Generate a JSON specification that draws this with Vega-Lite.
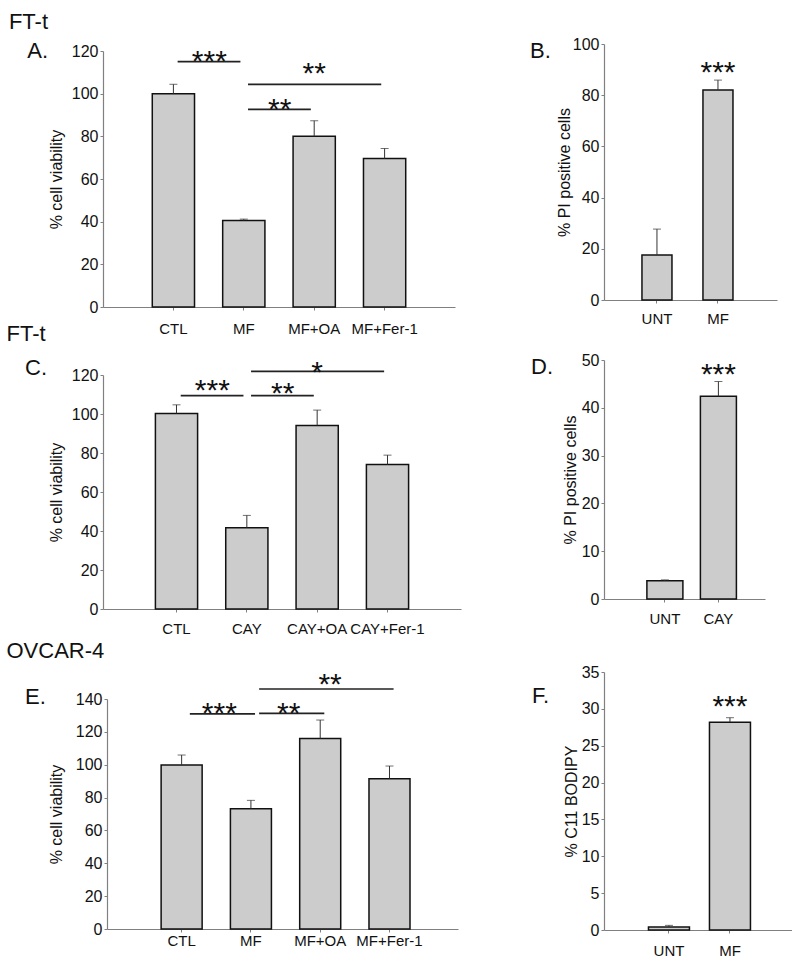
{
  "$schema": "https://vega.github.io/schema/vega-lite/v6.json",
  "background": "white",
  "padding": {"left": 6, "top": 11, "right": 0, "bottom": 0},
  "columns": 2,
  "spacing": {"row": 43, "column": 141},
  "bounds": "flush",
  "align": "none",
  "datasets": {
    "barsA": [
      {"cond": "CTL", "mean": 100, "err": 104.4},
      {"cond": "MF", "mean": 40.5, "err": 41.2},
      {"cond": "MF+OA", "mean": 80, "err": 87.3},
      {"cond": "MF+Fer-1", "mean": 69.6, "err": 74.3}
    ],
    "sigA": [
      {"from": "CTL", "to": "MF", "mid": "CTL", "y": 115, "ty": 118.5, "label": "***", "kind": "adj"},
      {"from": "MF", "to": "MF+OA", "mid": "MF", "y": 92.6, "ty": 96.2, "label": "**", "kind": "adj"},
      {"from": "MF", "to": "MF+Fer-1", "mid": "MF+OA", "y": 104.4, "ty": 113, "label": "**", "kind": "wide"}
    ],
    "barsB": [
      {"cond": "UNT", "mean": 17.6, "err": 27.7},
      {"cond": "MF", "mean": 82, "err": 85.9}
    ],
    "starB": [{"mid": "MF", "ty": 91.9, "label": "***"}],
    "barsC": [
      {"cond": "CTL", "mean": 100.3, "err": 104.7},
      {"cond": "CAY", "mean": 41.7, "err": 48},
      {"cond": "CAY+OA", "mean": 94.1, "err": 102},
      {"cond": "CAY+Fer-1", "mean": 74.1, "err": 78.9}
    ],
    "sigC": [
      {"from": "CTL", "to": "CAY", "mid": "CTL", "y": 109.4, "ty": 115.7, "label": "***", "kind": "adj"},
      {"from": "CAY", "to": "CAY+OA", "mid": "CAY", "y": 109.4, "ty": 114.3, "label": "**", "kind": "adj"},
      {"from": "CAY", "to": "CAY+Fer-1", "mid": "CAY+OA", "y": 121.9, "ty": 125.1, "label": "*", "kind": "wide"}
    ],
    "barsD": [
      {"cond": "UNT", "mean": 3.8, "err": 4.0},
      {"cond": "CAY", "mean": 42.4, "err": 45.5}
    ],
    "starD": [{"mid": "CAY", "ty": 48.5, "label": "***"}],
    "barsE": [
      {"cond": "CTL", "mean": 99.8, "err": 105.9},
      {"cond": "MF", "mean": 73.2, "err": 78.3},
      {"cond": "MF+OA", "mean": 116, "err": 127.2},
      {"cond": "MF+Fer-1", "mean": 91.5, "err": 99.2}
    ],
    "sigE": [
      {"from": "CTL", "to": "MF", "mid": "CTL", "y": 130.9, "ty": 135.7, "label": "***", "kind": "adj"},
      {"from": "MF", "to": "MF+OA", "mid": "MF", "y": 131.3, "ty": 135.9, "label": "**", "kind": "adj"},
      {"from": "MF", "to": "MF+Fer-1", "mid": "MF+OA", "y": 146.1, "ty": 153.4, "label": "**", "kind": "wide"}
    ],
    "barsF": [
      {"cond": "UNT", "mean": 0.41, "err": 0.63},
      {"cond": "MF", "mean": 28.2, "err": 28.8}
    ],
    "starF": [{"mid": "MF", "ty": 31.4, "label": "***"}]
  },
  "concat": [
    {
      "width": 360, "height": 263,
      "title": {"text": "FT-t", "subtitle": "A.", "align": "right", "dx": -55, "offset": -20, "subtitlePadding": 7},
      "layer": [
        {"data": {"name": "barsA"}, "mark": {"type": "bar", "fill": "#cccccc", "stroke": "#111111", "strokeWidth": 1.5},
         "encoding": {
           "x": {"field": "cond", "type": "nominal", "sort": null, "scale": {"domain": ["CTL", "MF", "MF+OA", "MF+Fer-1"], "range": [0, 352], "paddingInner": 0.4, "paddingOuter": 0.7, "align": 0.5},
                 "axis": {"labelPadding": 11, "title": "FT-t", "titleX": -97, "titleY": 33, "titleAlign": "left", "titleAnchor": "start", "titleBaseline": "alphabetic", "titleAngle": 0, "titleFontSize": 22, "titleFont": "Liberation Sans", "titleFontWeight": "normal", "titleColor": "#111111", "titlePadding": 0}},
           "y": {"field": "mean", "type": "quantitative", "scale": {"domain": [0, 120], "range": [263, 7], "nice": false}, "axis": {"values": [0, 20, 40, 60, 80, 100, 120], "tickCount": 20, "title": "% cell viability", "titlePadding": 7}}
         }},
        {"data": {"name": "barsA"}, "mark": {"type": "rule", "color": "#333333", "strokeWidth": 1},
         "encoding": {"x": {"field": "cond", "type": "nominal", "sort": null}, "y": {"field": "mean", "type": "quantitative"}, "y2": {"field": "err"}}},
        {"data": {"name": "barsA"}, "mark": {"type": "tick", "color": "#333333", "thickness": 1, "size": 8},
         "encoding": {"x": {"field": "cond", "type": "nominal", "sort": null}, "y": {"field": "err", "type": "quantitative"}}},
        {"data": {"name": "sigA"}, "mark": {"type": "rule", "color": "#222222", "strokeWidth": 1.7},
         "encoding": {"x": {"field": "from", "type": "nominal", "sort": null, "bandPosition": 0.6}, "x2": {"field": "to", "bandPosition": 0.42}, "y": {"field": "y", "type": "quantitative"}}},
        {"data": {"name": "sigA"}, "transform": [{"filter": "datum.kind === 'adj'"}], "mark": {"type": "text", "fontSize": 30, "font": "Liberation Sans", "baseline": "alphabetic", "dy": 17, "color": "#111111"},
         "encoding": {"x": {"field": "from", "type": "nominal", "sort": null, "bandPosition": 1.35}, "y": {"field": "ty", "type": "quantitative"}, "text": {"field": "label"}}},
        {"data": {"name": "sigA"}, "transform": [{"filter": "datum.kind === 'wide'"}], "mark": {"type": "text", "fontSize": 30, "font": "Liberation Sans", "baseline": "alphabetic", "dy": 17, "color": "#111111"},
         "encoding": {"x": {"field": "mid", "type": "nominal", "sort": null, "bandPosition": 0.5}, "y": {"field": "ty", "type": "quantitative"}, "text": {"field": "label"}}}
      ]
    },
    {
      "width": 173, "height": 256,
      "title": {"text": "B.", "dx": -74, "offset": -27},
      "layer": [
        {"data": {"name": "barsB"}, "mark": {"type": "bar", "fill": "#cccccc", "stroke": "#111111", "strokeWidth": 1.5},
         "encoding": {
           "x": {"field": "cond", "type": "nominal", "sort": null, "scale": {"domain": ["UNT", "MF"], "paddingInner": 0.508, "paddingOuter": 0.672, "align": 0.463}, "axis": {"title": null, "labelPadding": 8}},
           "y": {"field": "mean", "type": "quantitative", "scale": {"domain": [0, 100], "nice": false}, "axis": {"values": [0, 20, 40, 60, 80, 100], "tickCount": 20, "title": "% PI positive cells", "titlePadding": 0}}
         }},
        {"data": {"name": "barsB"}, "mark": {"type": "rule", "color": "#333333", "strokeWidth": 1},
         "encoding": {"x": {"field": "cond", "type": "nominal", "sort": null}, "y": {"field": "mean", "type": "quantitative"}, "y2": {"field": "err"}}},
        {"data": {"name": "barsB"}, "mark": {"type": "tick", "color": "#333333", "thickness": 1, "size": 8},
         "encoding": {"x": {"field": "cond", "type": "nominal", "sort": null}, "y": {"field": "err", "type": "quantitative"}}},
        {"data": {"name": "starB"}, "mark": {"type": "text", "fontSize": 30, "font": "Liberation Sans", "baseline": "alphabetic", "dy": 17, "color": "#111111"},
         "encoding": {"x": {"field": "mid", "type": "nominal", "sort": null}, "y": {"field": "ty", "type": "quantitative"}, "text": {"field": "label"}}}
      ]
    },
    {
      "width": 356, "height": 259,
      "title": {"text": "C.", "dx": -78, "offset": -30},
      "layer": [
        {"data": {"name": "barsC"}, "mark": {"type": "bar", "fill": "#cccccc", "stroke": "#111111", "strokeWidth": 1.5},
         "encoding": {
           "x": {"field": "cond", "type": "nominal", "sort": null, "scale": {"domain": ["CTL", "CAY", "CAY+OA", "CAY+Fer-1"], "range": [0, 358], "paddingInner": 0.4, "paddingOuter": 0.745, "align": 0.5},
                 "axis": {"labelPadding": 9, "title": "OVCAR-4", "titleX": -97, "titleY": 48, "titleAlign": "left", "titleAnchor": "start", "titleBaseline": "alphabetic", "titleAngle": 0, "titleFontSize": 22, "titleFont": "Liberation Sans", "titleFontWeight": "normal", "titleColor": "#111111", "titlePadding": 0}},
           "y": {"field": "mean", "type": "quantitative", "scale": {"domain": [0, 120], "range": [259, 25], "nice": false}, "axis": {"values": [0, 20, 40, 60, 80, 100, 120], "tickCount": 20, "title": "% cell viability", "titlePadding": 7}}
         }},
        {"data": {"name": "barsC"}, "mark": {"type": "rule", "color": "#333333", "strokeWidth": 1},
         "encoding": {"x": {"field": "cond", "type": "nominal", "sort": null}, "y": {"field": "mean", "type": "quantitative"}, "y2": {"field": "err"}}},
        {"data": {"name": "barsC"}, "mark": {"type": "tick", "color": "#333333", "thickness": 1, "size": 8},
         "encoding": {"x": {"field": "cond", "type": "nominal", "sort": null}, "y": {"field": "err", "type": "quantitative"}}},
        {"data": {"name": "sigC"}, "mark": {"type": "rule", "color": "#222222", "strokeWidth": 1.7},
         "encoding": {"x": {"field": "from", "type": "nominal", "sort": null, "bandPosition": 0.6}, "x2": {"field": "to", "bandPosition": 0.42}, "y": {"field": "y", "type": "quantitative"}}},
        {"data": {"name": "sigC"}, "transform": [{"filter": "datum.kind === 'adj'"}], "mark": {"type": "text", "fontSize": 30, "font": "Liberation Sans", "baseline": "alphabetic", "dy": 17, "color": "#111111"},
         "encoding": {"x": {"field": "from", "type": "nominal", "sort": null, "bandPosition": 1.35}, "y": {"field": "ty", "type": "quantitative"}, "text": {"field": "label"}}},
        {"data": {"name": "sigC"}, "transform": [{"filter": "datum.kind === 'wide'"}], "mark": {"type": "text", "fontSize": 30, "font": "Liberation Sans", "baseline": "alphabetic", "dy": 17, "color": "#111111"},
         "encoding": {"x": {"field": "mid", "type": "nominal", "sort": null, "bandPosition": 0.5}, "y": {"field": "ty", "type": "quantitative"}, "text": {"field": "label"}}}
      ]
    },
    {
      "width": 161, "height": 249,
      "title": {"text": "D.", "dx": -73, "offset": -29},
      "layer": [
        {"data": {"name": "barsD"}, "mark": {"type": "bar", "fill": "#cccccc", "stroke": "#111111", "strokeWidth": 1.5},
         "encoding": {
           "x": {"field": "cond", "type": "nominal", "sort": null, "scale": {"domain": ["UNT", "CAY"], "paddingInner": 0.327, "paddingOuter": 0.668, "align": 0.6}, "axis": {"title": null, "labelPadding": 9}},
           "y": {"field": "mean", "type": "quantitative", "scale": {"domain": [0, 50], "range": [249, 10], "nice": false}, "axis": {"values": [0, 10, 20, 30, 40, 50], "tickCount": 20, "title": "% PI positive cells", "titlePadding": 3}}
         }},
        {"data": {"name": "barsD"}, "mark": {"type": "rule", "color": "#333333", "strokeWidth": 1},
         "encoding": {"x": {"field": "cond", "type": "nominal", "sort": null}, "y": {"field": "mean", "type": "quantitative"}, "y2": {"field": "err"}}},
        {"data": {"name": "barsD"}, "mark": {"type": "tick", "color": "#333333", "thickness": 1, "size": 8},
         "encoding": {"x": {"field": "cond", "type": "nominal", "sort": null}, "y": {"field": "err", "type": "quantitative"}}},
        {"data": {"name": "starD"}, "mark": {"type": "text", "fontSize": 30, "font": "Liberation Sans", "baseline": "alphabetic", "dy": 17, "color": "#111111"},
         "encoding": {"x": {"field": "mid", "type": "nominal", "sort": null}, "y": {"field": "ty", "type": "quantitative"}, "text": {"field": "label"}}}
      ]
    },
    {
      "width": 360, "height": 277,
      "title": {"text": "E.", "dx": -78, "offset": -57},
      "layer": [
        {"data": {"name": "barsE"}, "mark": {"type": "bar", "fill": "#cccccc", "stroke": "#111111", "strokeWidth": 1.5},
         "encoding": {
           "x": {"field": "cond", "type": "nominal", "sort": null, "scale": {"domain": ["CTL", "MF", "MF+OA", "MF+Fer-1"], "range": [4, 355], "paddingInner": 0.408, "paddingOuter": 0.737, "align": 0.53}, "axis": {"title": null, "labelPadding": 1}},
           "y": {"field": "mean", "type": "quantitative", "scale": {"domain": [0, 140], "range": [277, 47], "nice": false}, "axis": {"values": [0, 20, 40, 60, 80, 100, 120, 140], "tickCount": 20, "offset": -4, "title": "% cell viability", "titlePadding": 11}}
         }},
        {"data": {"name": "barsE"}, "mark": {"type": "rule", "color": "#333333", "strokeWidth": 1},
         "encoding": {"x": {"field": "cond", "type": "nominal", "sort": null}, "y": {"field": "mean", "type": "quantitative"}, "y2": {"field": "err"}}},
        {"data": {"name": "barsE"}, "mark": {"type": "tick", "color": "#333333", "thickness": 1, "size": 8},
         "encoding": {"x": {"field": "cond", "type": "nominal", "sort": null}, "y": {"field": "err", "type": "quantitative"}}},
        {"data": {"name": "sigE"}, "mark": {"type": "rule", "color": "#222222", "strokeWidth": 1.7},
         "encoding": {"x": {"field": "from", "type": "nominal", "sort": null, "bandPosition": 0.7}, "x2": {"field": "to", "bandPosition": 0.6}, "y": {"field": "y", "type": "quantitative"}}},
        {"data": {"name": "sigE"}, "transform": [{"filter": "datum.kind === 'adj'"}], "mark": {"type": "text", "fontSize": 30, "font": "Liberation Sans", "baseline": "alphabetic", "dy": 17, "color": "#111111"},
         "encoding": {"x": {"field": "from", "type": "nominal", "sort": null, "bandPosition": 1.42}, "y": {"field": "ty", "type": "quantitative"}, "text": {"field": "label"}}},
        {"data": {"name": "sigE"}, "transform": [{"filter": "datum.kind === 'wide'"}], "mark": {"type": "text", "fontSize": 30, "font": "Liberation Sans", "baseline": "alphabetic", "dy": 17, "color": "#111111"},
         "encoding": {"x": {"field": "mid", "type": "nominal", "sort": null, "bandPosition": 0.74}, "y": {"field": "ty", "type": "quantitative"}, "text": {"field": "label"}}}
      ]
    },
    {
      "width": 188, "height": 278,
      "title": {"text": "F.", "dx": -72, "offset": -56},
      "layer": [
        {"data": {"name": "barsF"}, "mark": {"type": "bar", "fill": "#cccccc", "stroke": "#111111", "strokeWidth": 1.5},
         "encoding": {
           "x": {"field": "cond", "type": "nominal", "sort": null, "scale": {"domain": ["UNT", "MF"], "paddingInner": 0.328, "paddingOuter": 0.705, "align": 0.517}, "axis": {"title": null, "labelPadding": 10}},
           "y": {"field": "mean", "type": "quantitative", "scale": {"domain": [0, 35], "range": [278, 20], "nice": false}, "axis": {"values": [0, 5, 10, 15, 20, 25, 30, 35], "tickCount": 20, "title": "% C11 BODIPY", "titlePadding": 2}}
         }},
        {"data": {"name": "barsF"}, "mark": {"type": "rule", "color": "#333333", "strokeWidth": 1},
         "encoding": {"x": {"field": "cond", "type": "nominal", "sort": null}, "y": {"field": "mean", "type": "quantitative"}, "y2": {"field": "err"}}},
        {"data": {"name": "barsF"}, "mark": {"type": "tick", "color": "#333333", "thickness": 1, "size": 8},
         "encoding": {"x": {"field": "cond", "type": "nominal", "sort": null}, "y": {"field": "err", "type": "quantitative"}}},
        {"data": {"name": "starF"}, "mark": {"type": "text", "fontSize": 30, "font": "Liberation Sans", "baseline": "alphabetic", "dy": 17, "color": "#111111"},
         "encoding": {"x": {"field": "mid", "type": "nominal", "sort": null}, "y": {"field": "ty", "type": "quantitative"}, "text": {"field": "label"}}}
      ]
    }
  ],
  "config": {
    "view": {"stroke": null},
    "font": "Liberation Sans",
    "title": {"anchor": "start", "frame": "group", "font": "Liberation Sans", "fontSize": 22, "fontWeight": "normal", "color": "#111111", "subtitleFont": "Liberation Sans", "subtitleFontSize": 22, "subtitleFontWeight": "normal", "subtitleColor": "#111111"},
    "axis": {"domainColor": "#808080", "domainWidth": 1.2, "tickColor": "#808080", "tickSize": 3, "tickWidth": 1, "labelFont": "Liberation Sans", "labelFontSize": 16, "labelColor": "#111111", "labelOverlap": false, "titleFont": "Liberation Sans", "titleFontSize": 16, "titleFontWeight": "normal", "titleColor": "#111111", "grid": false},
    "axisX": {"labelAngle": 0, "labelFontSize": 15},
    "axisY": {"labelPadding": 2}
  }
}
